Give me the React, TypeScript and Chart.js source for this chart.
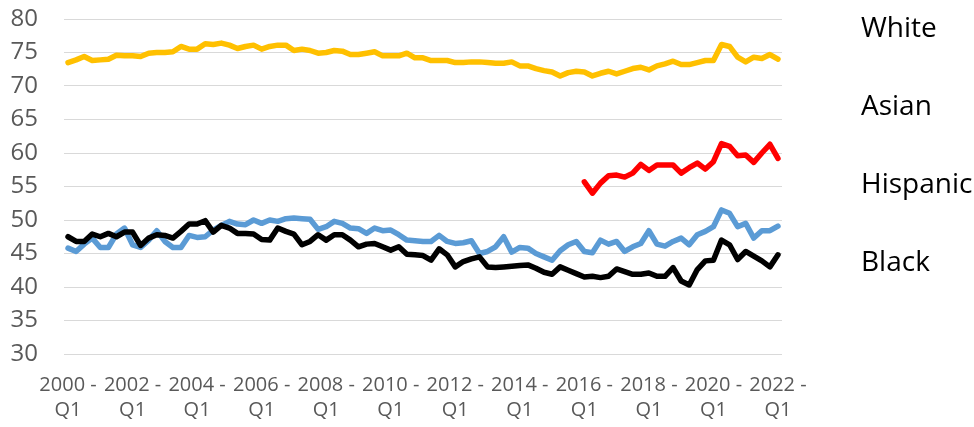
import React, { useEffect, useRef } from "react";
import { Chart, registerables } from "chart.js";

Chart.register(...registerables);

// Quarterly categories 2000 Q1 .. 2022 Q1
const years: number[] = [];
for (let y = 2000; y <= 2022; y++) years.push(y);
const quarters = ["Q1", "Q2", "Q3", "Q4"];
const categories: string[] = [];
years.forEach((y) => {
  quarters.forEach((q) => {
    if (y === 2022 && q !== "Q1") return;
    categories.push(`${y} - ${q}`);
  });
});

const yTicks = [30, 35, 40, 45, 50, 55, 60, 65, 70, 75, 80];
const legendLabels = ["White", "Asian", "Hispanic", "Black"];

const white = [
  73.5, 73.9, 74.4, 73.8, 73.9, 74.0, 74.6, 74.5, 74.5, 74.4,
  74.9, 75.0, 75.0, 75.1, 75.9, 75.5, 75.5, 76.3, 76.2, 76.4,
  76.1, 75.6, 75.9, 76.1, 75.5, 75.9, 76.1, 76.1, 75.3, 75.5,
  75.3, 74.9, 75.0, 75.3, 75.2, 74.7, 74.7, 74.9, 75.1, 74.5,
  74.5, 74.5, 74.9, 74.2, 74.2, 73.8, 73.8, 73.8, 73.5, 73.5,
  73.6, 73.6, 73.5, 73.4, 73.4, 73.6, 73.0, 73.0, 72.6, 72.3,
  72.1, 71.5, 72.0, 72.2, 72.1, 71.5, 71.9, 72.2, 71.8, 72.2,
  72.6, 72.8, 72.4, 73.0, 73.3, 73.7, 73.2, 73.2, 73.5, 73.8,
  73.8, 76.2, 75.9, 74.3, 73.6, 74.3, 74.1, 74.7, 74.0,
];

const asian = [
  45.8, 45.3, 46.4, 47.3, 45.9, 45.9, 47.9, 48.8, 46.3, 45.9,
  47.0, 48.4, 46.8, 45.9, 45.9, 47.7, 47.4, 47.5, 48.5, 49.2,
  49.8, 49.4, 49.3, 50.0, 49.5, 50.0, 49.8, 50.2, 50.3, 50.2,
  50.1, 48.6, 49.0, 49.8, 49.5, 48.8, 48.7, 48.0, 48.8, 48.4,
  48.5, 47.8, 47.0, 46.9, 46.8, 46.8, 47.7, 46.8, 46.5, 46.6,
  46.9, 45.0, 45.3, 46.0, 47.5, 45.2, 45.9, 45.8, 45.0, 44.5,
  44.0, 45.4, 46.3, 46.8, 45.3, 45.1, 47.0, 46.4, 46.8, 45.3,
  46.0, 46.5, 48.4, 46.4, 46.1, 46.8, 47.3, 46.3, 47.8, 48.3,
  49.0, 51.5, 51.0, 49.0, 49.5, 47.3, 48.4, 48.4, 49.1,
];

const hispanicStart = 64; // 2016 Q1
const hispanicValues = [
  55.7, 54.0, 55.5, 56.6, 56.7, 56.4, 57.0, 58.3, 57.4, 58.2,
  58.2, 58.2, 57.0, 57.8, 58.5, 57.6, 58.7, 61.4, 61.0, 59.6,
  59.7, 58.6, 60.0, 61.3, 59.2,
];

const black = [
  47.5, 46.8, 46.8, 47.9, 47.5, 48.0, 47.5, 48.2, 48.2, 46.2,
  47.3, 47.8, 47.7, 47.3, 48.3, 49.4, 49.4, 49.9, 48.2, 49.2,
  48.8, 48.0, 48.0, 47.9, 47.1, 47.0, 48.8, 48.3, 47.9, 46.3,
  46.8, 47.8, 47.0, 47.8, 47.8, 47.0, 46.0, 46.4, 46.5, 46.0,
  45.5, 46.0, 44.9, 44.8, 44.7, 44.0, 45.7, 44.8, 43.0, 43.8,
  44.2, 44.5, 43.0, 42.9, 43.0, 43.1, 43.2, 43.3, 42.8, 42.2,
  41.9, 43.0, 42.5, 42.0, 41.5, 41.6, 41.4, 41.6, 42.7, 42.3,
  41.9, 41.9, 42.1, 41.6, 41.6, 42.9, 40.9, 40.3, 42.6, 43.9,
  44.0, 47.0, 46.3, 44.1, 45.3, 44.6, 43.9, 43.0, 44.8,
];

const hispanic: (number | null)[] = categories.map((_, i) =>
  i >= hispanicStart ? hispanicValues[i - hispanicStart] ?? null : null
);

export default function App() {
  const canvasRef = useRef<HTMLCanvasElement | null>(null);

  useEffect(() => {
    const canvas = canvasRef.current;
    if (!canvas) return;

    const sideLabels = {
      id: "sideLabels",
      afterDraw(chart: any) {
        const ctx = chart.ctx;
        ctx.save();
        ctx.fillStyle = "#000000";
        ctx.font = '28px "Open Sans"';
        ctx.textAlign = "left";
        ctx.textBaseline = "alphabetic";
        const baselines = [37, 115, 193, 271];
        legendLabels.forEach((t, i) => ctx.fillText(t, 861, baselines[i]));
        ctx.restore();
      },
    };

    const common = {
      pointRadius: 0,
      pointHoverRadius: 0,
      pointBorderWidth: 0,
      borderWidth: 5.5,
      tension: 0,
      fill: false,
      spanGaps: false,
      borderJoinStyle: "round" as const,
      borderCapStyle: "round" as const,
    };

    const chart = new Chart(canvas, {
      type: "line",
      data: {
        labels: categories,
        datasets: [
          { label: "Black", data: black, borderColor: "#000000", backgroundColor: "#000000", ...common },
          { label: "Asian", data: asian, borderColor: "#5B9BD5", backgroundColor: "#5B9BD5", ...common },
          { label: "Hispanic", data: hispanic, borderColor: "#FF0000", backgroundColor: "#FF0000", ...common },
          { label: "White", data: white, borderColor: "#FFC000", backgroundColor: "#FFC000", ...common },
        ],
      },
      options: {
        responsive: false,
        animation: false,
        events: [],
        layout: { autoPadding: false, padding: { top: 19, right: 192, left: 0, bottom: 0 } },
        plugins: {
          legend: { display: false },
          tooltip: { enabled: false },
          title: { display: false },
        },
        scales: {
          x: {
            type: "category",
            offset: true,
            grid: { display: false, drawTicks: false },
            border: { display: false },
            afterFit: (s: any) => {
              s.height = 73;
              s.paddingTop = 0;
              s.paddingBottom = 0;
            },
            ticks: {
              autoSkip: false,
              maxRotation: 0,
              minRotation: 0,
              padding: 19,
              color: "#595959",
              font: { family: '"Open Sans"', size: 20, lineHeight: 1.25 },
              callback: (_v: any, index: number) => {
                if (index % 8 !== 0) return null;
                const lbl = categories[index];
                const [yr, q] = lbl.split(" - ");
                return [`${yr} -`, q];
              },
            },
          },
          y: {
            min: yTicks[0],
            max: yTicks[yTicks.length - 1],
            afterFit: (s: any) => {
              s.width = 64;
              s.paddingTop = 0;
              s.paddingBottom = 0;
            },
            afterBuildTicks: (s: any) => {
              s.ticks = yTicks.map((v) => ({ value: v }));
            },
            grid: { color: "#D9D9D9", lineWidth: 1, drawTicks: false },
            border: { display: false },
            ticks: {
              autoSkip: false,
              padding: 26,
              color: "#595959",
              font: { family: '"Open Sans"', size: 24 },
            },
          },
        },
      },
      plugins: [sideLabels],
    });

    return () => chart.destroy();
  }, []);

  return (
    <div style={{ position: "fixed", left: 0, top: 0, width: 974, height: 427, background: "#ffffff" }}>
      <canvas ref={canvasRef} width={974} height={427} style={{ display: "block" }} />
    </div>
  );
}
